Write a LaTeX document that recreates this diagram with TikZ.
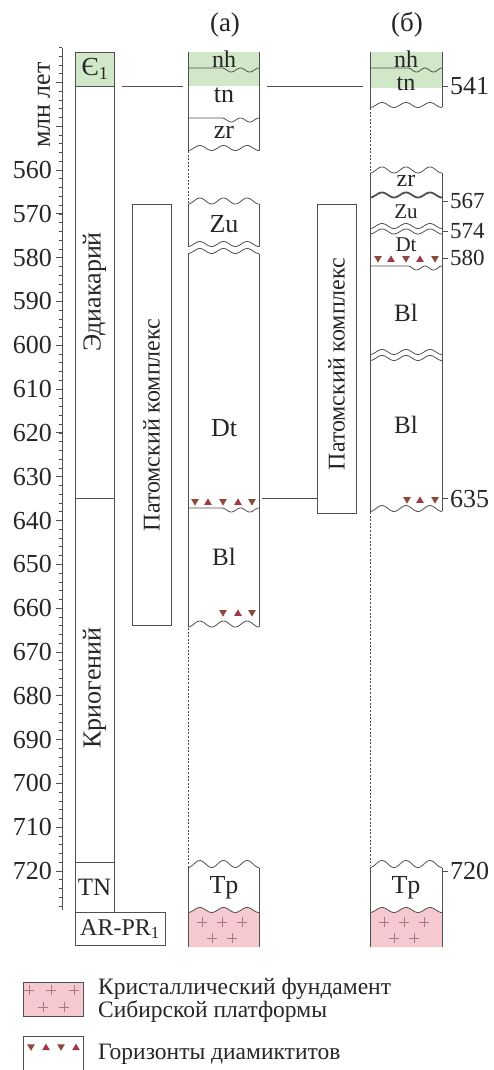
\documentclass[tikz,border=0pt]{standalone}
\usepackage{fontspec}
\setmainfont{Liberation Serif}
\definecolor{ln}{HTML}{505050}
\definecolor{grn}{HTML}{D0E8C7}
\definecolor{pnk}{HTML}{F6C8D0}
\definecolor{crs}{HTML}{A87882}
\definecolor{trd}{HTML}{8A4A3A}
\definecolor{tru}{HTML}{A0384A}
\newcommand{\fs}[1]{\fontsize{#1}{#1}\selectfont}
\newcommand{\wave}[5]{\draw[ln,line width=0.8pt] plot[domain=#1:#2,samples=61,smooth] (\x,{#3+#4*cos(360*#5*((\x-(#1))/((#2)-(#1))))});}
\tikzset{
  lbl/.style={inner sep=0pt,text=black!85},
  ln/.style={draw=ln,line width=0.8pt},
  dsh/.style={draw=ln,line width=0.7pt,dash pattern=on 2pt off 1.6pt},
  tdn/.pic={\fill[trd] (-3.8,-2.8) -- (3.8,-2.8) -- (0,3.6) -- cycle;},
  tup/.pic={\fill[tru] (-3.8,2.8) -- (3.8,2.8) -- (0,-3.6) -- cycle;},
  crss/.pic={\draw[crs,line width=0.8pt] (-5,0) -- (5,0) (0,-5) -- (0,5);}
}
\begin{document}
\begin{tikzpicture}[x=1pt,y=-1pt]
\useasboundingbox (0,0) rectangle (494,1070);
\fill[white] (0,0) rectangle (494,1070);

% ---------- age axis ----------
\draw[ln] (62,48) -- (62,910);
\foreach \m in {532,534,...,728}{\draw[ln,line width=0.6pt] (59,{170+(\m-560)*4.381}) -- (62,{170+(\m-560)*4.381});}
\foreach \m in {540,550,...,720}{\draw[ln,line width=0.8pt] (56,{170+(\m-560)*4.381}) -- (62,{170+(\m-560)*4.381});}
\foreach \m in {560,570,...,720}{\node[lbl,anchor=east,font=\fs{26}] (t\m) at (52,{170+(\m-560)*4.381}) {\m};}
\node[lbl,rotate=90,font=\fs{26}] (unit) at (44,105) {млн лет};

% ---------- column of periods ----------
\fill[grn] (75,52) rectangle (114,86);
\draw[ln] (75,52) rectangle (114,912);
\draw[ln] (75,86) -- (114,86);
\draw[ln] (75,498.6) -- (114,498.6);
\draw[ln] (75,862) -- (114,862);
\draw[ln] (75,912) rectangle (165,945);
\node[lbl,font=\fs{26}] (cam) at (95,69) {Є\textsubscript{1}};
\node[lbl,rotate=90,font=\fs{26}] (edi) at (94.5,292) {Эдиакарий};
\node[lbl,rotate=90,font=\fs{26}] (cry) at (94.5,688) {Криогений};
\node[lbl,font=\fs{25}] (tn0) at (94.5,887) {TN};
\node[lbl,font=\fs{24}] (arpr) at (120,929) {AR-PR\textsubscript{1}};

% ---------- Patom complex boxes ----------
\draw[ln] (132,204) rectangle (171,625);
\node[lbl,rotate=90,font=\fs{24}] (pata) at (151.5,425) {Патомский комплекс};
\draw[ln] (317,204) rectangle (356,513);
\node[lbl,rotate=90,font=\fs{24}] (patb) at (336.5,364) {Патомский комплекс};

% ---------- headings ----------
\node[lbl,font=\fs{27}] (ha) at (225,25) {(а)};
\node[lbl,font=\fs{27}] (hb) at (407,25) {(б)};

% ---------- column (a) ----------
\fill[grn] (188,52) rectangle (259,86);
\draw[ln] (188,52) -- (188,150.5);
\draw[ln] (259,52) -- (259,150.5);
\draw[ln] (188,68) -- (222,68) -- plot[domain=222:259,samples=40,smooth] (\x,{70-2*cos(720*((\x-222)/37))});
\draw[ln] (188,118) -- (222,118) -- plot[domain=222:259,samples=40,smooth] (\x,{120-2*cos(720*((\x-222)/37))});
\wave{188}{259}{148}{2.5}{3}
\draw[dsh] (188,151) -- (188,203);
\wave{188}{259}{201}{3}{3}
\draw[ln] (188,204) -- (188,246.5); \draw[ln] (259,204) -- (259,246.5);
\wave{188}{259}{244}{2.5}{3}
\wave{188}{259}{251}{2.5}{3}
\draw[ln] (188,253.5) -- (188,627); \draw[ln] (259,253.5) -- (259,627);
\draw[ln] (188,508) -- (222,508) -- plot[domain=222:259,samples=40,smooth] (\x,{510-2*cos(720*((\x-222)/37))});
\pic at (195,502) {tdn}; \pic at (208,502) {tup}; \pic at (223,502) {tdn}; \pic at (238,502) {tup}; \pic at (252,502) {tdn};
\pic at (223,613) {tdn}; \pic at (238,613) {tup}; \pic at (252,613) {tdn};
\wave{188}{259}{624}{3}{3}
\draw[dsh] (188,628) -- (188,866);
\fill[pnk] (188,947) -- plot[domain=188:259,samples=61,smooth] (\x,{910+2.5*cos(1080*((\x-188)/71))}) -- (259,947) -- cycle;
\wave{188}{259}{864}{3.5}{3}
\draw[ln] (188,867.5) -- (188,947); \draw[ln] (259,867.5) -- (259,947);
\wave{188}{259}{910}{2.5}{3}
\pic at (202,922) {crss}; \pic at (222,922) {crss}; \pic at (242,922) {crss};
\pic at (212,938) {crss}; \pic at (232,938) {crss};
\node[lbl,font=\fs{24}] (anh) at (224,59) {nh};
\node[lbl,font=\fs{26}] (atn) at (224,95) {tn};
\node[lbl,font=\fs{26}] (azr) at (224,132) {zr};
\node[lbl,font=\fs{26}] (azu) at (224,224) {Zu};
\node[lbl,font=\fs{26}] (adt) at (224,428) {Dt};
\node[lbl,font=\fs{25}] (abl) at (224,557) {Bl};
\node[lbl,font=\fs{26}] (atp) at (224,888) {Tp};

% ---------- column (б) ----------
\fill[grn] (370,52) rectangle (442,88);
\draw[ln] (370,52) -- (370,107.5);
\draw[ln] (442,52) -- (442,107.5);
\draw[ln] (370,68) -- (408,68) -- plot[domain=408:442,samples=40,smooth] (\x,{70-2*cos(720*((\x-408)/34))});
\wave{370}{442}{105}{2.5}{3}
\draw[dsh] (370,108) -- (370,172);
\wave{370}{442}{170}{3}{3}
\draw[ln] (370,173) -- (370,511); \draw[ln] (442,173) -- (442,511);
\draw[ln,line width=1.8pt] plot[domain=370:442,samples=61,smooth] (\x,{195+2.5*cos(1080*((\x-370)/72))});
\wave{370}{442}{226}{2.5}{3}
\wave{370}{442}{231.5}{2.5}{3}
\pic at (378,259) {tdn}; \pic at (391,259) {tup}; \pic at (406,259) {tdn}; \pic at (420,259) {tup}; \pic at (435,259) {tdn};
\draw[ln] (370,266) -- (408,266) -- plot[domain=408:442,samples=40,smooth] (\x,{268-2*cos(720*((\x-408)/34))});
\wave{370}{442}{352}{2.5}{3}
\wave{370}{442}{358}{2.5}{3}
\pic at (407,500) {tdn}; \pic at (420,500) {tup}; \pic at (435,500) {tdn};
\wave{370}{442}{508.5}{3}{3}
\draw[dsh] (370,512) -- (370,866);
\fill[pnk] (370,947) -- plot[domain=370:442,samples=61,smooth] (\x,{910+2.5*cos(1080*((\x-370)/72))}) -- (442,947) -- cycle;
\wave{370}{442}{864}{3.5}{3}
\draw[ln] (370,867.5) -- (370,947); \draw[ln] (442,867.5) -- (442,947);
\wave{370}{442}{910}{2.5}{3}
\pic at (384,922) {crss}; \pic at (404,922) {crss}; \pic at (424,922) {crss};
\pic at (394,938) {crss}; \pic at (414,938) {crss};
\node[lbl,font=\fs{24}] (bnh) at (406,59) {nh};
\node[lbl,font=\fs{24}] (btn) at (406,84) {tn};
\node[lbl,font=\fs{24}] (bzr) at (406,181) {zr};
\node[lbl,font=\fs{21}] (bzu) at (406,212) {Zu};
\node[lbl,font=\fs{21}] (bdt) at (406,245) {Dt};
\node[lbl,font=\fs{25}] (bbl1) at (406,313) {Bl};
\node[lbl,font=\fs{25}] (bbl2) at (406,425) {Bl};
\node[lbl,font=\fs{26}] (btp) at (406,888) {Tp};

% ---------- right age marks ----------
\foreach \y/\t/\s in {86/541/26, 201/567/23, 231/574/23, 258/580/23, 498.6/635/26, 871/720/26}{
  \draw[ln] (442,\y) -- (448,\y);
  \node[lbl,anchor=west,font=\fs{\s}] (r\t) at (450,\y) {\t};
}

% ---------- correlation lines ----------
\coordinate (k1) at (122,86); \coordinate (k2) at (183,86);
\coordinate (k3) at (267,86); \coordinate (k4) at (363,86);
\coordinate (k5) at (262,498.6); \coordinate (k6) at (317,498.6);
\draw[ln] (k1) -- (k2);
\draw[ln] (k3) -- (k4);
\draw[ln] (k5) -- (k6);

% ---------- legend ----------
\fill[pnk] (23,982) rectangle (83,1016);
\draw[ln,line width=0.6pt] (23,982) rectangle (83,1016);
\pic at (29,990) {crss}; \pic at (51,990) {crss}; \pic at (74,990) {crss};
\pic at (43,1007) {crss}; \pic at (64,1007) {crss};
\node[lbl,anchor=west,align=left,font=\fontsize{23.5}{18.5}\selectfont] (leg1) at (98,1000) {Кристаллический фундамент\\Сибирской платформы};
\draw[ln,line width=0.6pt] (23,1070) -- (23,1036) -- (83,1036) -- (83,1070);
\begin{scope}[scale=0.8]
\pic at (38.75,1309) {tdn}; \pic at (57.5,1309) {tup}; \pic at (76.25,1309) {tdn}; \pic at (95,1309) {tup};
\end{scope}
\node[lbl,anchor=west,font=\fs{23.5}] (leg2) at (98,1054) {Горизонты диамиктитов};
\end{tikzpicture}
\end{document}
